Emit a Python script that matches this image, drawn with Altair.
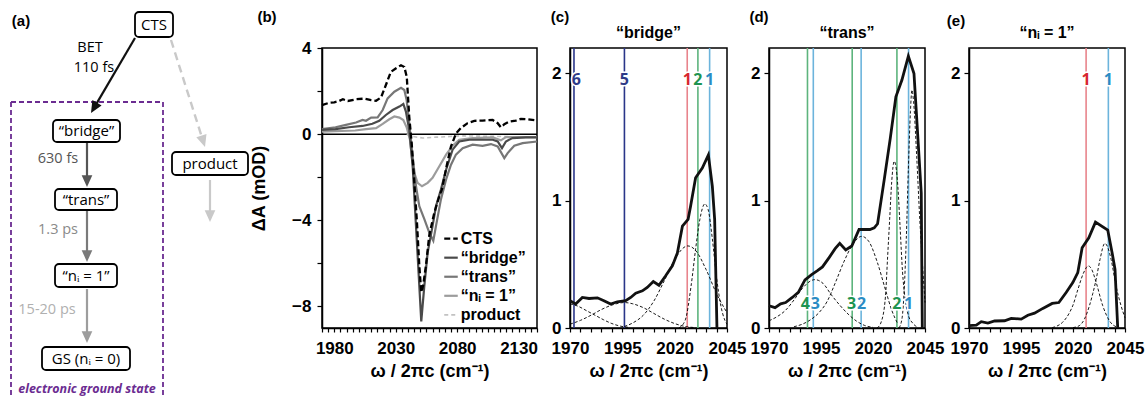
import math
import altair as alt
import pandas as pd

SANS = "Liberation Sans"
MYR = "Open Sans"
XTITLE = "ω / 2πc (cm⁻¹)"

# ---------------- (b) transient spectra ----------------
cts_x = [1970, 1976, 1980, 1984, 1987, 1991, 1997.7, 2004.4, 2010, 2014, 2018, 2022, 2026, 2030, 2034.3, 2037, 2039, 2041, 2043, 2045, 2047.3, 2049.2, 2050.8, 2052.4, 2054.6, 2057.3, 2061.4, 2065.5, 2067.6, 2071.4, 2075, 2079, 2083, 2088.5, 2094, 2100.7, 2108.9, 2113, 2115.6, 2118.4, 2122.4, 2127.8, 2131.9, 2137.3, 2145]
cts_y = [1.35, 1.46, 1.48, 1.54, 1.62, 1.54, 1.62, 1.65, 1.58, 1.55, 1.7, 2.28, 2.89, 3.05, 3.2, 3.12, 2.66, 0.82, -0.42, -2.1, -4.1, -6.1, -7.34, -7.0, -6.1, -4.7, -3.65, -2.88, -2.57, -1.49, -0.57, 0.02, 0.28, 0.51, 0.62, 0.63, 0.66, 0.51, 0.32, 0.46, 0.58, 0.63, 0.71, 0.69, 0.63]
bridge_x = [1970, 1981, 1992, 2003, 2011, 2016.6, 2022, 2027.5, 2033, 2036.2, 2038.3, 2041, 2043.8, 2046.5, 2049.2, 2050.8, 2053.3, 2056, 2060, 2062.8, 2066.8, 2071, 2076.3, 2081.7, 2090, 2100.7, 2109, 2113, 2116.5, 2119.7, 2125, 2136, 2145]
bridge_y = [0.2, 0.23, 0.32, 0.38, 0.48, 0.62, 0.89, 1.12, 1.28, 1.4, 1.05, 0.2, -1.49, -4.26, -7.03, -8.69, -7.03, -5.5, -4.26, -3.34, -2.57, -1.65, -0.72, -0.34, -0.26, -0.26, -0.26, -0.34, -0.65, -0.34, -0.18, -0.15, -0.15]
trans_x = [1970, 1981, 1989.5, 1997.7, 2003, 2005.8, 2010, 2015.3, 2019.4, 2023.4, 2028.9, 2034.3, 2037, 2038.9, 2041, 2043.8, 2046.5, 2049.2, 2053.3, 2057.3, 2060.6, 2062.8, 2066.8, 2071, 2075, 2079, 2084.5, 2092.6, 2100.7, 2107.5, 2113, 2118.4, 2121.1, 2126.5, 2133.3, 2145]
trans_y = [0.23, 0.32, 0.43, 0.54, 0.66, 0.62, 0.77, 0.78, 1.12, 1.66, 1.97, 2.15, 2.05, 1.58, 0.51, -1.03, -2.42, -3.34, -3.95, -4.57, -4.95, -4.26, -3.03, -2.1, -1.42, -0.95, -0.65, -0.49, -0.54, -0.46, -0.57, -1.11, -0.88, -0.54, -0.42, -0.34]
ni1_x = [1970, 1997, 2005.8, 2014, 2019.4, 2024.8, 2028.9, 2033, 2036.2, 2038.9, 2041.6, 2044.3, 2047.8, 2051.4, 2056, 2060, 2065.5, 2071, 2076.3, 2081.7, 2092.6, 2109, 2115.6, 2119.7, 2128, 2145]
ni1_y = [0.12, 0.17, 0.23, 0.28, 0.48, 0.69, 0.82, 0.77, 0.66, 0.32, -0.26, -1.65, -2.26, -2.42, -2.26, -2.03, -1.49, -0.95, -0.54, -0.26, -0.18, -0.15, -0.29, -0.14, -0.14, -0.14]
product_x = [2039, 2043, 2052, 2063, 2074, 2085, 2095, 2105, 2125, 2145]
product_y = [0.0, -0.1, -0.18, -0.14, -0.11, -0.08, -0.09, -0.1, -0.12, -0.12]
b_names = ["CTS", "“bridge”", "“trans”", "“nᵢ = 1”", "product"]

# ---------------- (c) "bridge" ----------------
c_x = [1970, 1972.7, 1975.9, 1979.1, 1983.1, 1986.2, 1989.4, 1992.6, 1996.6, 1999, 2001.4, 2004.6, 2006.9, 2009.8, 2012.5, 2015.7, 2018.9, 2021.3, 2023.7, 2026.4, 2027.6, 2030, 2033.2, 2036.1, 2038, 2039.1, 2040.2]
c_y = [0.214, 0.188, 0.24, 0.232, 0.237, 0.214, 0.188, 0.206, 0.214, 0.24, 0.274, 0.292, 0.318, 0.365, 0.336, 0.41, 0.488, 0.59, 0.8, 0.853, 0.957, 1.18, 1.257, 1.36, 1.113, 0.853, 0.0]
c_g1_x = [1970, 1974, 1978, 1982, 1986, 1990, 1994, 1998]
c_g1_y = [0.19, 0.17, 0.135, 0.1, 0.065, 0.035, 0.015, 0.005]
c_g2_x = [1970, 1975, 1980, 1985, 1990, 1996, 2000, 2005, 2010, 2015, 2020, 2025, 2030]
c_g2_y = [0.03, 0.06, 0.1, 0.145, 0.18, 0.2, 0.19, 0.16, 0.115, 0.07, 0.035, 0.012, 0.003]
c_g3_x = [1996, 2000, 2005, 2010, 2015, 2020, 2026.3, 2030, 2035, 2040, 2045]
c_g3_y = [0.012, 0.04, 0.1, 0.21, 0.37, 0.54, 0.645, 0.61, 0.46, 0.27, 0.12]
c_g4_x = [2022, 2025, 2028, 2030, 2032, 2034.4, 2036, 2038, 2040, 2042, 2044, 2045]
c_g4_y = [0.0, 0.06, 0.35, 0.62, 0.85, 0.975, 0.93, 0.7, 0.4, 0.18, 0.06, 0.03]
c_peak_x = [1971.9, 1996, 2026, 2031.1, 2036.7]
c_peak_lbl = ["6", "5", "1", "2", "1"]
c_peak_kind = ["navy", "navy", "red", "green", "blue"]

# ---------------- (d) "trans" ----------------
d_x = [1970, 1972.9, 1975.6, 1978, 1981.2, 1984.1, 1987.3, 1990.5, 1993.3, 1995.7, 1998.9, 2001.8, 2004, 2006.9, 2009.8, 2013.3, 2018.5, 2020.6, 2022.2, 2025.4, 2028.3, 2031, 2033.9, 2037, 2039.7, 2043.2, 2043.7]
d_y = [0.175, 0.16, 0.19, 0.2, 0.24, 0.28, 0.378, 0.42, 0.45, 0.48, 0.553, 0.623, 0.665, 0.613, 0.644, 0.774, 0.774, 0.787, 0.819, 1.166, 1.49, 1.817, 1.948, 2.136, 2.0, 1.06, 0.0]
d_g1_x = [1970, 1974, 1978, 1982, 1986, 1990, 1992, 1996, 2000, 2004, 2008, 2012, 2016, 2020]
d_g1_y = [0.057, 0.09, 0.14, 0.22, 0.31, 0.37, 0.38, 0.35, 0.26, 0.18, 0.11, 0.055, 0.02, 0.005]
d_g2_x = [1982, 1986, 1990, 1994, 1998, 2002, 2006, 2010, 2014.5, 2018, 2022, 2026, 2029, 2032]
d_g2_y = [0.01, 0.03, 0.065, 0.12, 0.21, 0.36, 0.52, 0.65, 0.72, 0.68, 0.52, 0.3, 0.14, 0.03]
d_g3_x = [2022, 2024, 2026, 2027, 2028, 2029, 2030.2, 2031, 2032, 2033, 2034.2, 2035.5, 2037, 2039, 2041]
d_g3_y = [0.0, 0.05, 0.25, 0.55, 0.85, 1.15, 1.31, 1.27, 1.1, 0.8, 0.44, 0.22, 0.1, 0.04, 0.01]
d_g4_x = [2032.5, 2034, 2035, 2036, 2037, 2038, 2038.7, 2039.5, 2041, 2042.5, 2044, 2045]
d_g4_y = [0.0, 0.08, 0.3, 0.7, 1.25, 1.7, 1.87, 1.78, 1.35, 0.85, 0.45, 0.2]
d_peak_x = [1988.5, 1991.3, 2010, 2014.3, 2031.5, 2037.1]
d_peak_lbl = ["4", "3", "3", "2", "2", "1"]
d_peak_kind = ["green", "blue", "green", "blue", "green", "blue"]

# ---------------- (e) "n_i = 1" ----------------
e_x = [1970, 1973.5, 1975.9, 1979.1, 1982.3, 1987.1, 1990.3, 1995.1, 1998.3, 2001.5, 2005.5, 2010, 2013.2, 2016.7, 2019.9, 2022.3, 2024.4, 2027.6, 2030.8, 2036.7, 2038.8, 2040.2, 2041.5]
e_y = [0.018, 0.023, 0.05, 0.039, 0.055, 0.057, 0.076, 0.07, 0.1, 0.117, 0.154, 0.193, 0.2, 0.279, 0.357, 0.435, 0.631, 0.709, 0.832, 0.77, 0.592, 0.46, 0.0]
e_g1_x = [2010, 2012, 2015, 2018.3, 2020, 2022.3, 2025, 2027.4, 2029, 2031.1, 2034.3, 2037.5, 2041.5]
e_g1_y = [0.003, 0.013, 0.045, 0.12, 0.18, 0.3, 0.43, 0.488, 0.46, 0.36, 0.175, 0.057, 0.005]
e_g2_x = [2020, 2023, 2025.5, 2027.9, 2029.5, 2031.1, 2033, 2035.3, 2036.8, 2038.3, 2040.7, 2043.1, 2045]
e_g2_y = [0.003, 0.018, 0.07, 0.175, 0.27, 0.38, 0.54, 0.665, 0.63, 0.54, 0.33, 0.175, 0.08]
e_peak_x = [2026.3, 2037]
e_peak_lbl = ["1", "1"]
e_peak_kind = ["red", "blue"]

# ---------------- (a) scheme ----------------
node_lbl = ["CTS", "“bridge”", "“trans”", "“nᵢ = 1”", "GS (nᵢ = 0)", "product"]
rate_lbl = ["630 fs", "1.3 ps", "15-20 ps"]

LINE_COL = {"navy": "#2a3589", "red": "#e8848c", "green": "#5db47d", "blue": "#6cb4dc"}
TEXT_COL = {"navy": "#2e3a87", "red": "#d7262f", "green": "#1e9450", "blue": "#2b8cc4"}

H = 280
NOFRAME = alt.ViewBackground(strokeOpacity=0)


def df(xs, ys):
    return pd.DataFrame({"x": xs, "y": ys})


def spread(xs, min_gap=4.8, lo=1973.0):
    out = list(xs)
    for i in range(len(out) - 1):
        gap = out[i + 1] - out[i]
        if gap < min_gap:
            d = (min_gap - gap) / 2
            out[i] -= d
            out[i + 1] += d
    return [max(v, lo) for v in out]


# ======== panel (a): drawn in picture-pixel coordinates ========
A_W = 322
AXS = alt.Scale(domain=[0, A_W], nice=False, zero=False)
AYS = alt.Scale(domain=[48, 48 + H], reverse=True, nice=False, zero=False)
ax = alt.X("x:Q", scale=AXS, axis=None)
ay = alt.Y("y:Q", scale=AYS, axis=None)

node_box = [(135, 173, 12, 37), (53, 120, 120, 142), (55, 117, 189, 210),
            (55, 117, 264, 287), (42, 130, 347, 370), (172, 248, 152, 175)]
nodes = pd.DataFrame({
    "label": node_lbl,
    "x": [b[0] for b in node_box], "x2": [b[1] for b in node_box],
    "y": [b[2] for b in node_box], "y2": [b[3] for b in node_box],
})
nodes["cx"] = (nodes["x"] + nodes["x2"]) / 2
nodes["cy"] = (nodes["y"] + nodes["y2"]) / 2

arrow_geo = [(135, 38, 91, 113, "#111111", 0), (87, 143, 87, 187, "#555555", 0),
             (87, 211, 87, 262, "#7a7a7a", 0), (87, 289, 87, 343, "#9d9d9d", 0),
             (171, 40, 205, 147, "#c9c9c9", 1), (210, 180, 210, 222, "#c9c9c9", 0)]
arr_rows = []
for x0, y0, x1, y1, col, dashed in arrow_geo:
    L = math.hypot(x1 - x0, y1 - y0)
    ux, uy = (x1 - x0) / L, (y1 - y0) / L
    ang = math.degrees(math.atan2(-ux, uy)) % 360
    arr_rows.append({"x": x0, "y": y0, "x2": x1 - ux * 6, "y2": y1 - uy * 6,
                     "tx": x1, "ty": y1, "ang": ang, "col": col, "dashed": dashed})
arrows = pd.DataFrame(arr_rows)
ARROW = "M0,0L-0.45,-1L0.45,-1Z"

a_layers = [
    alt.Chart(pd.DataFrame({"x": [0], "x2": [2], "y": [0], "y2": [2]})).mark_rect(fill="white")
    .encode(x=ax, x2="x2:Q", y=ay, y2="y2:Q"),
    alt.Chart(pd.DataFrame({"x": [11, 11, 163], "x2": [11, 163, 163], "y": [102, 102, 102], "y2": [398, 102, 398]}))
    .mark_rule(color="#6b2c91", strokeWidth=1.8, strokeDash=[5, 3])
    .encode(x=ax, x2="x2:Q", y=ay, y2="y2:Q"),
    alt.Chart(pd.DataFrame({"x": [87], "y": [389], "t": ["electronic ground state"]}))
    .mark_text(font=MYR, fontSize=12.5, fontWeight="bold", fontStyle="italic", color="#6b2c91")
    .encode(x=ax, y=ay, text="t:N"),
    alt.Chart(arrows[arrows.dashed == 0]).mark_rule(strokeWidth=2.2)
    .encode(x=ax, x2="x2:Q", y=ay, y2="y2:Q", color=alt.Color("col:N", scale=None)),
    alt.Chart(arrows[arrows.dashed == 1]).mark_rule(strokeWidth=2.4, strokeDash=[8, 5])
    .encode(x=ax, x2="x2:Q", y=ay, y2="y2:Q", color=alt.Color("col:N", scale=None)),
    alt.Chart(arrows).mark_point(shape=ARROW, filled=True, size=560, opacity=1)
    .encode(x=alt.X("tx:Q", scale=AXS, axis=None), y=alt.Y("ty:Q", scale=AYS, axis=None),
            angle=alt.Angle("ang:Q", scale=None), color=alt.Color("col:N", scale=None)),
    alt.Chart(nodes).mark_rect(fill="white", stroke="black", strokeWidth=1.8, cornerRadius=4)
    .encode(x=ax, x2="x2:Q", y=ay, y2="y2:Q"),
    alt.Chart(nodes).mark_text(font=MYR, fontSize=15, color="black")
    .encode(x=alt.X("cx:Q", scale=AXS, axis=None), y=alt.Y("cy:Q", scale=AYS, axis=None),
            text="label:N"),
    alt.Chart(pd.DataFrame({"x": [90, 94], "y": [48, 68], "t": ["BET", "110 fs"]}))
    .mark_text(font=MYR, fontSize=14.5, color="black").encode(x=ax, y=ay, text="t:N"),
    alt.Chart(pd.DataFrame({"x": [58, 58, 47], "y": [159, 230, 310], "t": rate_lbl,
                            "c": ["#555555", "#8a8a8a", "#b0b0b0"]}))
    .mark_text(font=MYR, fontSize=14.5).encode(x=ax, y=ay, text="t:N", color=alt.Color("c:N", scale=None)),
    alt.Chart(pd.DataFrame({"x": [21], "y": [21], "t": ["(a)"]}))
    .mark_text(font=SANS, fontSize=15, fontWeight="bold", color="black").encode(x=ax, y=ay, text="t:N"),
]
panel_a = alt.layer(*a_layers).properties(width=A_W, height=H, view=NOFRAME)


def letter(txt, px, py):
    return alt.Chart(pd.DataFrame({"t": [txt]})).mark_text(
        font=SANS, fontSize=15, fontWeight="bold", color="black"
    ).encode(x=alt.value(px), y=alt.value(py), text="t:N")


# ======== panel (b) ========
B_W = 215
bxs = alt.Scale(domain=[1970, 2145], nice=False, zero=False)
bys = alt.Scale(domain=[-9, 4], nice=False, zero=False)
bxa = alt.Axis(values=list(range(1970, 2146, 5)), format="d", title=XTITLE,
               labelExpr="(datum.value - 1980) % 50 == 0 ? datum.label : ''")
bya = alt.Axis(values=list(range(-8, 5, 2)), format="d", title="ΔA (mOD)", titlePadding=23,
               labelExpr="datum.value % 4 == 0 ? datum.label : ''", labelPadding=6)
BX = alt.X("x:Q", scale=bxs, axis=bxa)
BY = alt.Y("y:Q", scale=bys, axis=bya)

b_style = {
    "CTS": (cts_x, cts_y, "#000000", [6, 3], 2.3),
    "“bridge”": (bridge_x, bridge_y, "#4a4a4a", None, 2.2),
    "“trans”": (trans_x, trans_y, "#777777", None, 2.2),
    "“nᵢ = 1”": (ni1_x, ni1_y, "#9c9c9c", None, 2.2),
    "product": (product_x, product_y, "#c2c2c2", [4, 3], 1.6),
}
b_layers = [alt.Chart(pd.DataFrame({"y": [0]})).mark_rule(color="black", strokeWidth=1.5).encode(y=BY)]
for name in ["product", "“nᵢ = 1”", "“trans”", "“bridge”", "CTS"]:
    xs, ys, col, dash, w = b_style[name]
    kw = dict(color=col, strokeWidth=w)
    if dash:
        kw["strokeDash"] = dash
    b_layers.append(alt.Chart(df(xs, ys)).mark_line(**kw).encode(x=BX, y=BY))
for i, name in enumerate(b_names):
    xs, ys, col, dash, w = b_style[name]
    ly = -4.85 - 0.885 * i
    kw = dict(color=col, strokeWidth=w)
    if dash:
        kw["strokeDash"] = dash
    b_layers.append(alt.Chart(pd.DataFrame({"x": [2069.5], "x2": [2080.5], "y": [ly]}))
                    .mark_rule(**kw).encode(x=BX, x2="x2:Q", y=BY))
    b_layers.append(alt.Chart(pd.DataFrame({"x": [2083], "y": [ly], "t": [name]}))
                    .mark_text(font=SANS, fontSize=16, fontWeight="bold", align="left", color="black")
                    .encode(x=BX, y=BY, text="t:N"))
b_layers.append(letter("(b)", -55, -31))
panel_b = alt.layer(*b_layers).properties(width=B_W, height=H)


# ======== panels (c)-(e) ========
def fit_panel(cx, cy, gauss, px, plbl, pkind, label_y, title, let, let_xy, width):
    xs_ = alt.Scale(domain=[1970, 2045], nice=False, zero=False)
    ys_ = alt.Scale(domain=[0, 2.2], nice=False, zero=False)
    xa = alt.Axis(values=list(range(1970, 2046, 5)), format="d", title=XTITLE,
                  labelExpr="(datum.value - 1970) % 25 == 0 ? datum.label : ''")
    ya = alt.Axis(values=[i * 0.25 for i in range(9)], title=None, labelPadding=4, format="d",
                  labelExpr="datum.value % 1 == 0 ? datum.label : ''")
    X = alt.X("x:Q", scale=xs_, axis=xa)
    Y = alt.Y("y:Q", scale=ys_, axis=ya)
    peaks = pd.DataFrame({"x": px, "t": plbl,
                          "lc": [LINE_COL[k] for k in pkind], "tc": [TEXT_COL[k] for k in pkind]})
    labels = pd.DataFrame({"x": spread(px), "t": plbl, "tc": [TEXT_COL[k] for k in pkind]})
    labels["y"] = label_y
    g_rows = []
    for gi, (gx, gy) in enumerate(gauss):
        for a, b in zip(gx, gy):
            g_rows.append({"x": a, "y": b, "g": gi})
    layers = [
        alt.Chart(peaks).mark_rule(strokeWidth=1.6).encode(x=X, color=alt.Color("lc:N", scale=None)),
        alt.Chart(pd.DataFrame(g_rows)).mark_line(color="black", strokeWidth=0.9, strokeDash=[3, 2],
                                                  interpolate="monotone")
        .encode(x=X, y=Y, detail="g:N"),
        alt.Chart(df(cx, cy)).mark_line(color="#111111", strokeWidth=2.8).encode(x=X, y=Y),
        alt.Chart(labels).mark_text(font=MYR, fontSize=16, fontWeight="bold", fill="white",
                                    stroke="white", strokeWidth=3).encode(x=X, y=Y, text="t:N"),
        alt.Chart(labels).mark_text(font=MYR, fontSize=16, fontWeight="bold")
        .encode(x=X, y=Y, text="t:N", color=alt.Color("tc:N", scale=None)),
        alt.Chart(pd.DataFrame({"t": [title]})).mark_text(font=SANS, fontSize=16, fontWeight="bold",
                                                          color="black")
        .encode(x=alt.value(width / 2), y=alt.value(-15), text="t:N"),
        letter(let, let_xy[0], let_xy[1]),
    ]
    return alt.layer(*layers).properties(width=width, height=H)


panel_c = fit_panel(c_x, c_y, [(c_g1_x, c_g1_y), (c_g2_x, c_g2_y), (c_g3_x, c_g3_y), (c_g4_x, c_g4_y)],
                    c_peak_x, c_peak_lbl, c_peak_kind, 1.95, "“bridge”", "(c)", (-10, -31), 157)
panel_d = fit_panel(d_x, d_y, [(d_g1_x, d_g1_y), (d_g2_x, d_g2_y), (d_g3_x, d_g3_y), (d_g4_x, d_g4_y)],
                    d_peak_x, d_peak_lbl, d_peak_kind, 0.19, "“trans”", "(d)", (-10, -31), 156)
panel_e = fit_panel(e_x, e_y, [(e_g1_x, e_g1_y), (e_g2_x, e_g2_y)],
                    e_peak_x, e_peak_lbl, e_peak_kind, 1.95, "“nᵢ = 1”", "(e)", (-13, -27), 156)


def spacer(w):
    d = pd.DataFrame({"v": [0]})
    return alt.Chart(d).mark_point(opacity=0).encode(
        x=alt.X("v:Q", axis=None), y=alt.Y("v:Q", axis=None)
    ).properties(width=w, height=H, view=NOFRAME)


chart = alt.hconcat(
    panel_a, panel_b, spacer(33), panel_c, spacer(42), panel_d, spacer(44), panel_e,
    spacing=0, bounds="flush"
).properties(padding=0).configure_view(
    stroke="black", strokeWidth=1.5
).configure_axis(
    labelFont=SANS, labelFontWeight="bold", labelFontSize=17, labelColor="black",
    titleFont=SANS, titleFontWeight="bold", titleFontSize=18, titleColor="black",
    tickColor="black", tickWidth=1.2, tickSize=5, domainColor="black", domainWidth=1.5,
    grid=False, labelFlush=False, labelOverlap=False, labelPadding=4, titlePadding=6
).configure_axisX(
    tickSize=4, labelPadding=8
)

chart.save("out.html", embed_options={"renderer": "svg", "actions": False})
